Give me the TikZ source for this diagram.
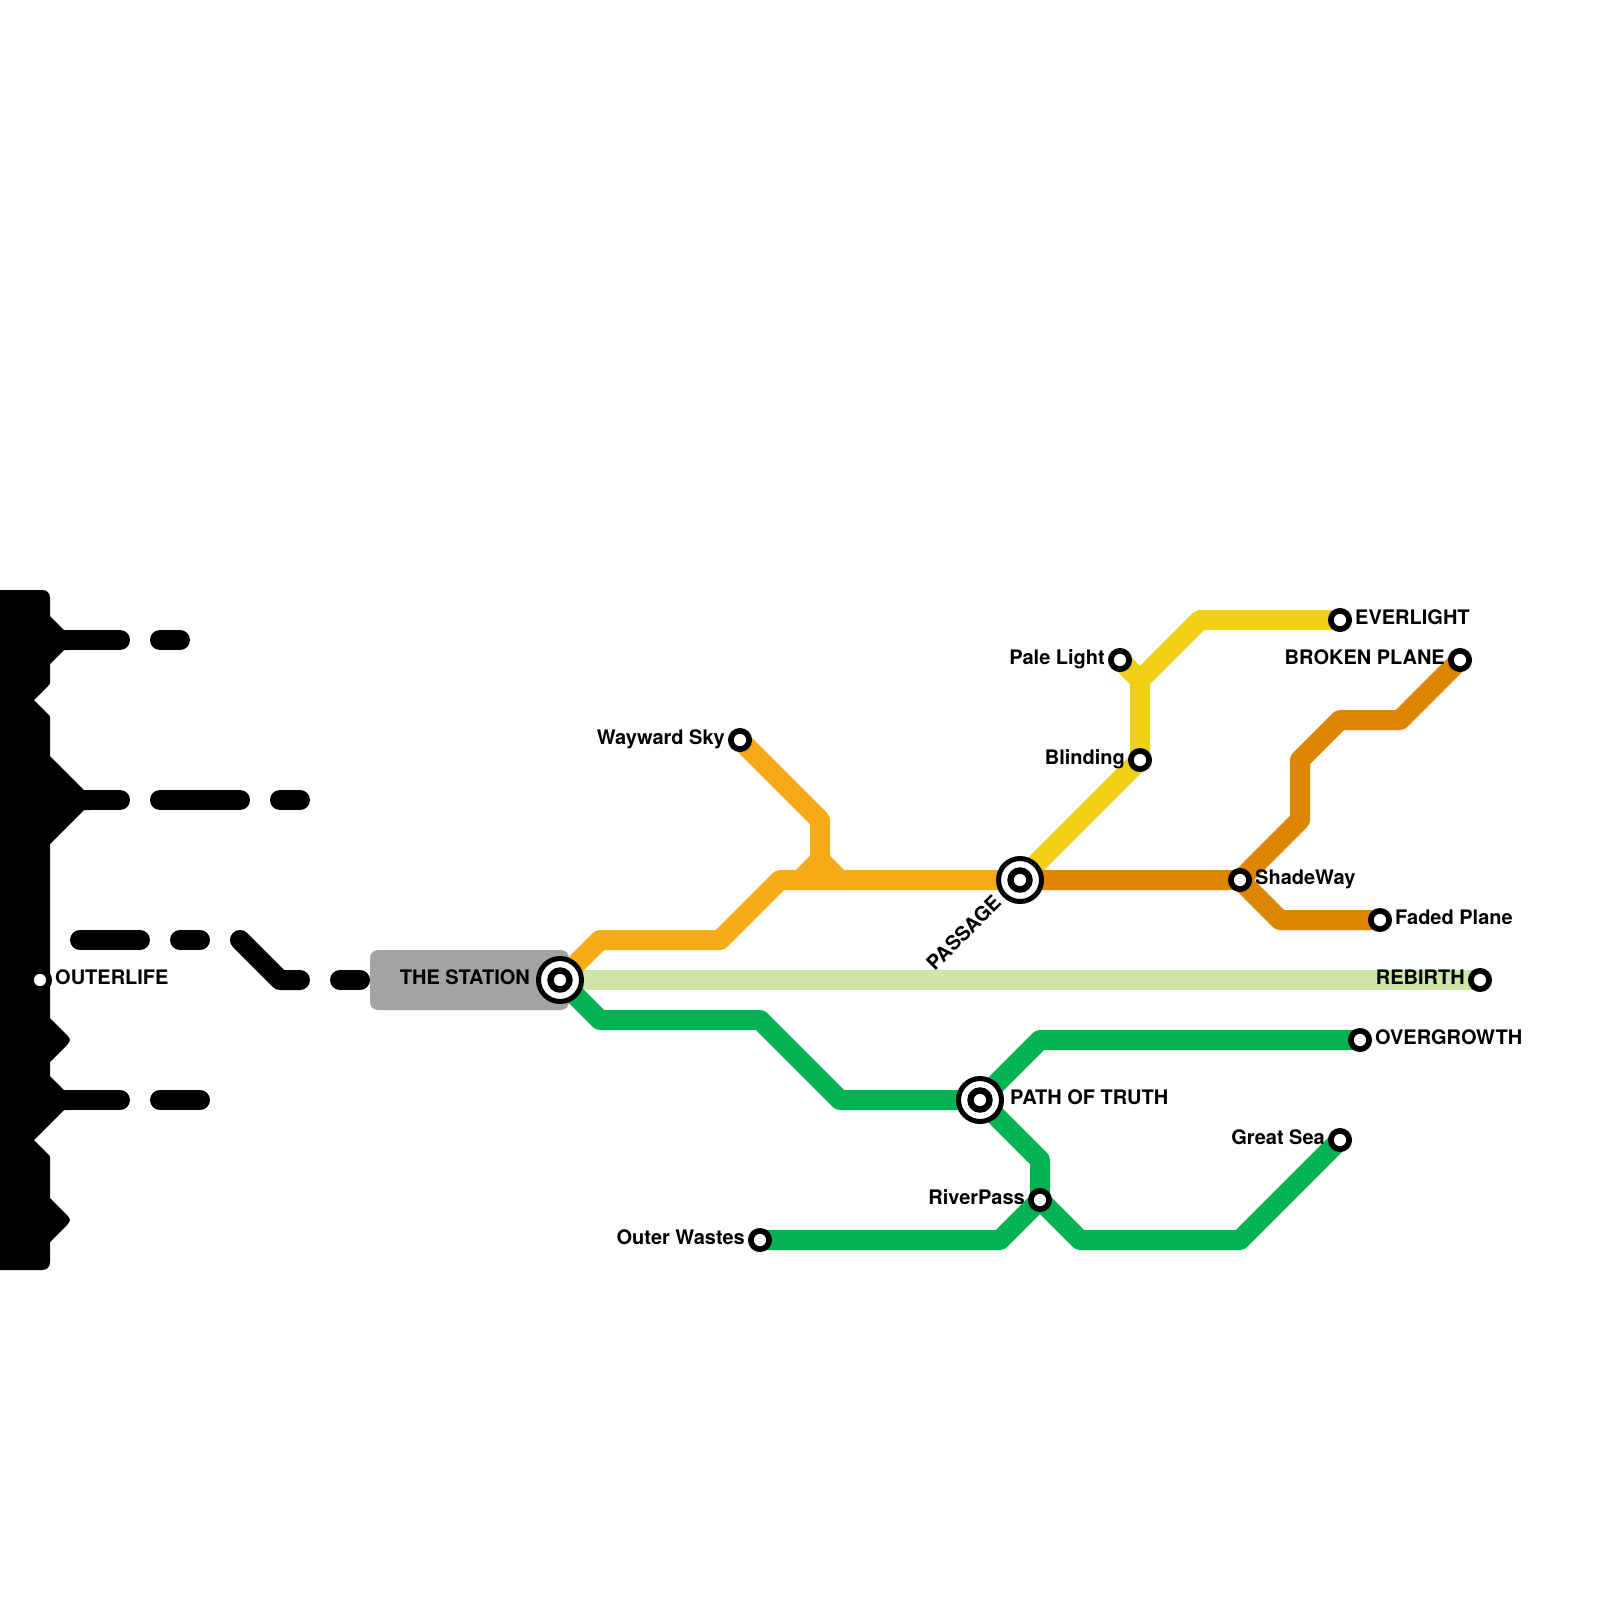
\documentclass[tikz,border=0pt]{standalone}
\usepackage{fontspec}
\setmainfont{TeX Gyre Heros}
\usetikzlibrary{backgrounds}
\definecolor{lamber}{HTML}{F5AB15}
\definecolor{lrust}{HTML}{DE8600}
\definecolor{lyellow}{HTML}{F0D015}
\definecolor{lgreen}{HTML}{03B353}
\definecolor{lpale}{HTML}{D0E5A8}
\definecolor{lgray}{HTML}{A3A3A3}
\tikzset{
  stn/.style={circle,draw=black,fill=white,line width=5.7pt,minimum size=18.3pt,inner sep=0pt,outer sep=0pt},
  hub/.style={circle,draw=black,fill=white,line width=5pt,minimum size=43pt,inner sep=0pt,outer sep=0pt,
    path picture={\draw[black,line width=6.4pt] (path picture bounding box.center) circle (9.5pt);}},
  lblw/.style={anchor=base west,inner sep=0pt,yshift=0.5pt,font=\fontsize{20pt}{20pt}\selectfont\bfseries},
  lble/.style={anchor=base east,inner sep=0pt,yshift=0.5pt,font=\fontsize{20pt}{20pt}\selectfont\bfseries},
  route/.style={line width=20pt,line join=round},
  dashseg/.style={route,black,line cap=round},
}
\begin{document}
\begin{tikzpicture}[x=1pt,y=-1pt]
\useasboundingbox (0,0) rectangle (1600,1600);
% stations
\node[stn] (outerlife) at (40,980) {};
\node[hub] (station) at (560,980) {};
\node[hub] (passage) at (1020,880) {};
\node[hub] (truth) at (980,1100) {};
\node[stn] (wayward) at (740,740) {};
\node[stn] (pale) at (1120,660) {};
\node[stn] (blinding) at (1140,760) {};
\node[stn] (everlight) at (1340,620) {};
\node[stn] (broken) at (1460,660) {};
\node[stn] (shade) at (1240,880) {};
\node[stn] (faded) at (1380,920) {};
\node[stn] (rebirth) at (1480,980) {};
\node[stn] (overgrowth) at (1360,1040) {};
\node[stn] (greatsea) at (1340,1140) {};
\node[stn] (river) at (1040,1200) {};
\node[stn] (outerwastes) at (760,1240) {};
% labels
\node[lblw] (tOuterlife) at (55,985) {OUTERLIFE};
\node[lble] (tStation) at (530,985) {THE STATION};
\node[lble,rotate=45] (tPassage) at (1002.5,904.5) {PASSAGE};
\node[lblw] (tTruth) at (1010,1105) {PATH OF TRUTH};
\node[lble] (tWayward) at (725,745) {Wayward Sky};
\node[lble] (tPale) at (1105,665) {Pale Light};
\node[lble] (tBlinding) at (1125,765) {Blinding};
\node[lblw] (tEverlight) at (1355,625) {EVERLIGHT};
\node[lble] (tBroken) at (1445,665) {BROKEN PLANE};
\node[lblw] (tShade) at (1255,885) {ShadeWay};
\node[lblw] (tFaded) at (1395,925) {Faded Plane};
\node[lble] (tRebirth) at (1465,985) {REBIRTH};
\node[lblw] (tOvergrowth) at (1375,1045) {OVERGROWTH};
\node[lble] (tGreat) at (1325,1145) {Great Sea};
\node[lble] (tRiver) at (1025,1205) {RiverPass};
\node[lble] (tWastes) at (745,1245) {Outer Wastes};
% free ends of the black segments
\foreach \n/\x/\y in {a1/50/640,a2/120/640,a3/160/640,a4/180/640,
  b1/50/800,b2/120/800,b3/160/800,b4/240/800,b5/280/800,b6/300/800,
  c1/80/940,c2/140/940,c3/180/940,c4/200/940,c5/240/940,c6/280/980,c7/300/980,c8/340/980,c9/360/980,
  d1/50/1100,d2/120/1100,d3/160/1100,d4/200/1100}
  {\coordinate (\n) at (\x,\y);}
\begin{pgfonlayer}{background}
  \node[fill=lgray,rounded corners=8pt,minimum width=199pt,minimum height=60pt,inner sep=0pt,outer sep=0pt,anchor=north west] (stationbox) at (370,950) {};
  % black mass
  \fill[black] (0,590) -- (42,590) .. controls (47,590) and (50,593) .. (50,598)
    -- (50,616) -- (64,630) -- (70,630) -- (70,650) -- (64,650) -- (50,664)
    -- (50,682) .. controls (50,684) .. (48,686) -- (34,700) -- (48,714) .. controls (50,716) .. (50,718)
    -- (50,756) -- (84,790) -- (90,790) -- (90,810) -- (84,810) -- (50,844)
    -- (50,1018) -- (67,1035) .. controls (71,1040) .. (67,1045) -- (50,1062)
    -- (50,1076) -- (64,1090) -- (70,1090) -- (70,1110) -- (64,1110) -- (34,1140)
    -- (48,1154) .. controls (50,1156) .. (50,1158)
    -- (50,1198) -- (67,1215) .. controls (71,1220) .. (67,1225) -- (50,1242)
    -- (50,1262) .. controls (50,1267) and (47,1270) .. (42,1270) -- (0,1270) -- cycle;
  \draw[dashseg] (a1) -- (a2);
  \draw[dashseg] (a3) -- (a4);
  \draw[dashseg] (b1) -- (b2);
  \draw[dashseg] (b3) -- (b4);
  \draw[dashseg] (b5) -- (b6);
  \draw[dashseg] (c1) -- (c2);
  \draw[dashseg] (c3) -- (c4);
  \draw[dashseg] (c5) -- (c6) -- (c7);
  \draw[dashseg] (c8) -- (c9);
  \draw[dashseg] (d1) -- (d2);
  \draw[dashseg] (d3) -- (d4);
  % routes
  \draw[route,lpale] (station.center) -- (rebirth.center);
  \draw[route,lamber] (station.center) -- ++(40,-40) -- ++(120,0) -- ++(60,-60) -- (passage.center);
  \draw[route,lamber] (wayward.center) -- ++(80,80) -- ++(0,40) -- ++(-20,20);
  \draw[route,lamber] (wayward.center) ++(80,120) -- ++(20,20);
  \draw[route,lyellow] (passage.center) -- (blinding.center) -- ++(0,-80) -- ++(60,-60) -- (everlight.center);
  \draw[route,lyellow] (pale.center) -- ++(20,20);
  \draw[route,lrust] (passage.center) -- (shade.center) -- ++(60,-60) -- ++(0,-60) -- ++(40,-40) -- ++(60,0) -- (broken.center);
  \draw[route,lrust] (shade.center) -- ++(40,40) -- (faded.center);
  \draw[route,lgreen] (station.center) -- ++(40,40) -- ++(160,0) -- ++(80,80) -- (truth.center);
  \draw[route,lgreen] (truth.center) -- ++(60,-60) -- (overgrowth.center);
  \draw[route,lgreen] (truth.center) -- ++(60,60) -- (river.center) -- ++(-40,40) -- (outerwastes.center);
  \draw[route,lgreen] (river.center) -- ++(40,40) -- ++(160,0) -- (greatsea.center);
\end{pgfonlayer}
\end{tikzpicture}
\end{document}
